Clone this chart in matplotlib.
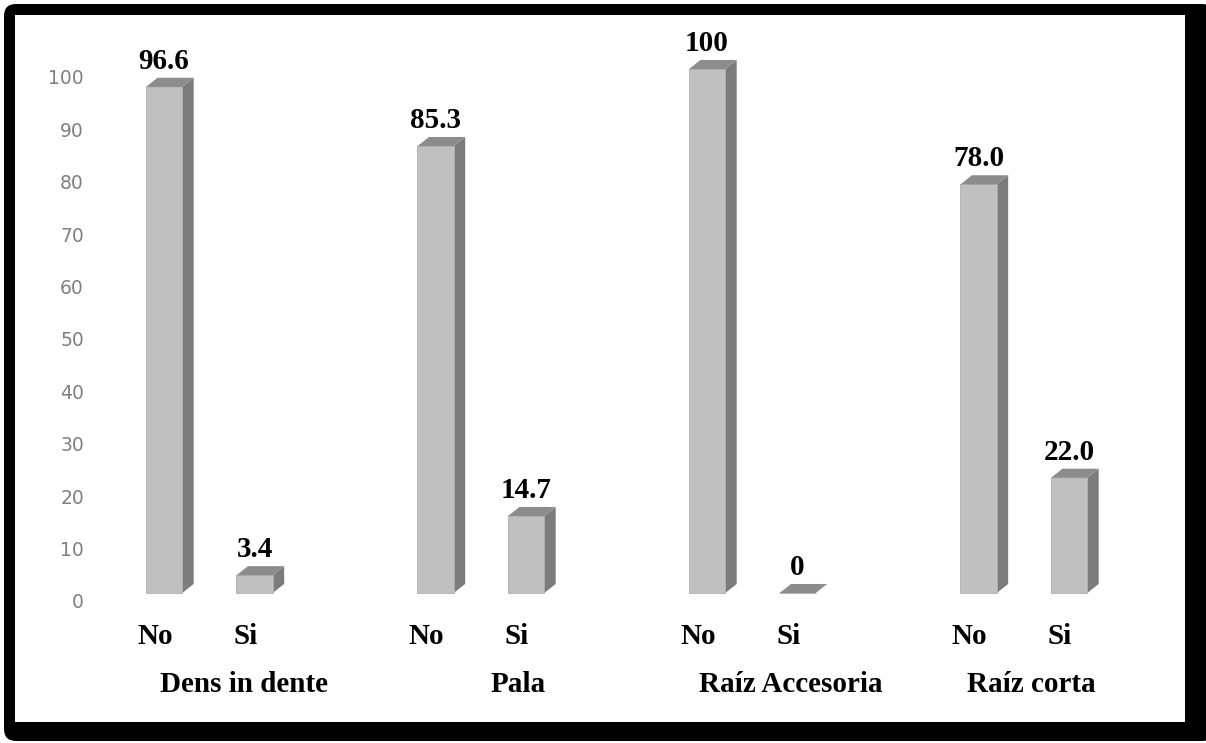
import matplotlib
matplotlib.use("Agg")
import matplotlib.pyplot as plt
from matplotlib.patches import Polygon, FancyBboxPatch, Rectangle

# ---- data ----
groups = ["Dens in dente", "Pala", "Raíz Accesoria", "Raíz corta"]
sub_labels = ["No", "Si"]
values_no = [96.6, 85.3, 100, 78.0]
values_si = [3.4, 14.7, 0, 22.0]
value_texts_no = ["96.6", "85.3", "100", "78.0"]
value_texts_si = ["3.4", "14.7", "0", "22.0"]
yticks = [0, 10, 20, 30, 40, 50, 60, 70, 80, 90, 100]

# ---- layout / style ----
W, H, DPI = 12.06, 7.43, 100
group_step = 3.0
bar_w = 0.40
depth_dx = 0.128
depth_dy = 1.75
base = 1.5
group_label_x = [0.88, 3.91, 6.93, 9.58]
front_c = "#c0c0c0"
side_c = "#7c7c7c"
top_c = "#8c8c8c"
serif = ["Liberation Serif", "DejaVu Serif"]
fs = 21

fig = plt.figure(figsize=(W, H), dpi=DPI, facecolor="white")

# frame (in inches: px/100)
outer = FancyBboxPatch((0.04, 0.02), 12.10, 7.37,
                       boxstyle="round,pad=0,rounding_size=0.12",
                       transform=fig.dpi_scale_trans, facecolor="black",
                       edgecolor="none", zorder=-3)
inner = Rectangle((0.15, 0.21), 11.70, 7.07, transform=fig.dpi_scale_trans,
                  facecolor="white", edgecolor="none", zorder=-2)
fig.patches.extend([outer, inner])

# axes: y0 at px 601, 5.24 px per unit
ppu = 5.24
ylo, yhi = -8, 112
ax_bottom_px = 601 + (-ylo) * ppu
ax_h_px = (yhi - ylo) * ppu
left_px, right_px = 95, 1185
unit_px = 90.5
x0_px = 164
ax = fig.add_axes([left_px / 1206, (743 - ax_bottom_px) / 743,
                   (right_px - left_px) / 1206, ax_h_px / 743])
ax.set_xlim((left_px - x0_px) / unit_px, (right_px - x0_px) / unit_px)
ax.set_ylim(ylo, yhi)
ax.patch.set_alpha(0)
for s in ax.spines.values():
    s.set_visible(False)
ax.set_xticks([])
ax.set_yticks(yticks)
ax.set_yticklabels([str(t) for t in yticks], color="#808080",
                   fontsize=13.5, family=["DejaVu Sans"])
ax.tick_params(axis="y", length=0, pad=8)

xs, vals, txts = [], [], []
for g in range(len(groups)):
    for j, v, t in ((0, values_no[g], value_texts_no[g]), (1, values_si[g], value_texts_si[g])):
        xs.append(g * group_step + j)
        vals.append(v)
        txts.append(t)

ax.bar(xs, vals, width=bar_w, bottom=base, color=front_c, edgecolor="#b0b0b0",
       linewidth=0.6, zorder=3)
for x, v, t in zip(xs, vals, txts):
    l, r = x - bar_w / 2, x + bar_w / 2
    b, tp = base, base + v
    side = Polygon([(r, b), (r + depth_dx, b + depth_dy), (r + depth_dx, tp + depth_dy), (r, tp)],
                   closed=True, facecolor=side_c, edgecolor="none", zorder=2)
    top = Polygon([(l, tp), (l + depth_dx, tp + depth_dy), (r + depth_dx, tp + depth_dy), (r, tp)],
                  closed=True, facecolor=top_c, edgecolor="none", zorder=4)
    ax.add_patch(side)
    ax.add_patch(top)
    ax.text(x, tp + depth_dy + 0.6, t, ha="center", va="bottom", fontsize=fs,
            fontweight="bold", family=serif, color="black")

for g in range(len(groups)):
    for j, lab in enumerate(sub_labels):
        ax.text(g * group_step + j - 0.1, -6.7, lab, ha="center", va="center",
                fontsize=fs, fontweight="bold", family=serif, color="black")
    ax.text(group_label_x[g], -16.0, groups[g], ha="center", va="center",
            fontsize=fs, fontweight="bold", family=serif, color="black")

fig.savefig("out.png", dpi=DPI, facecolor="white")
